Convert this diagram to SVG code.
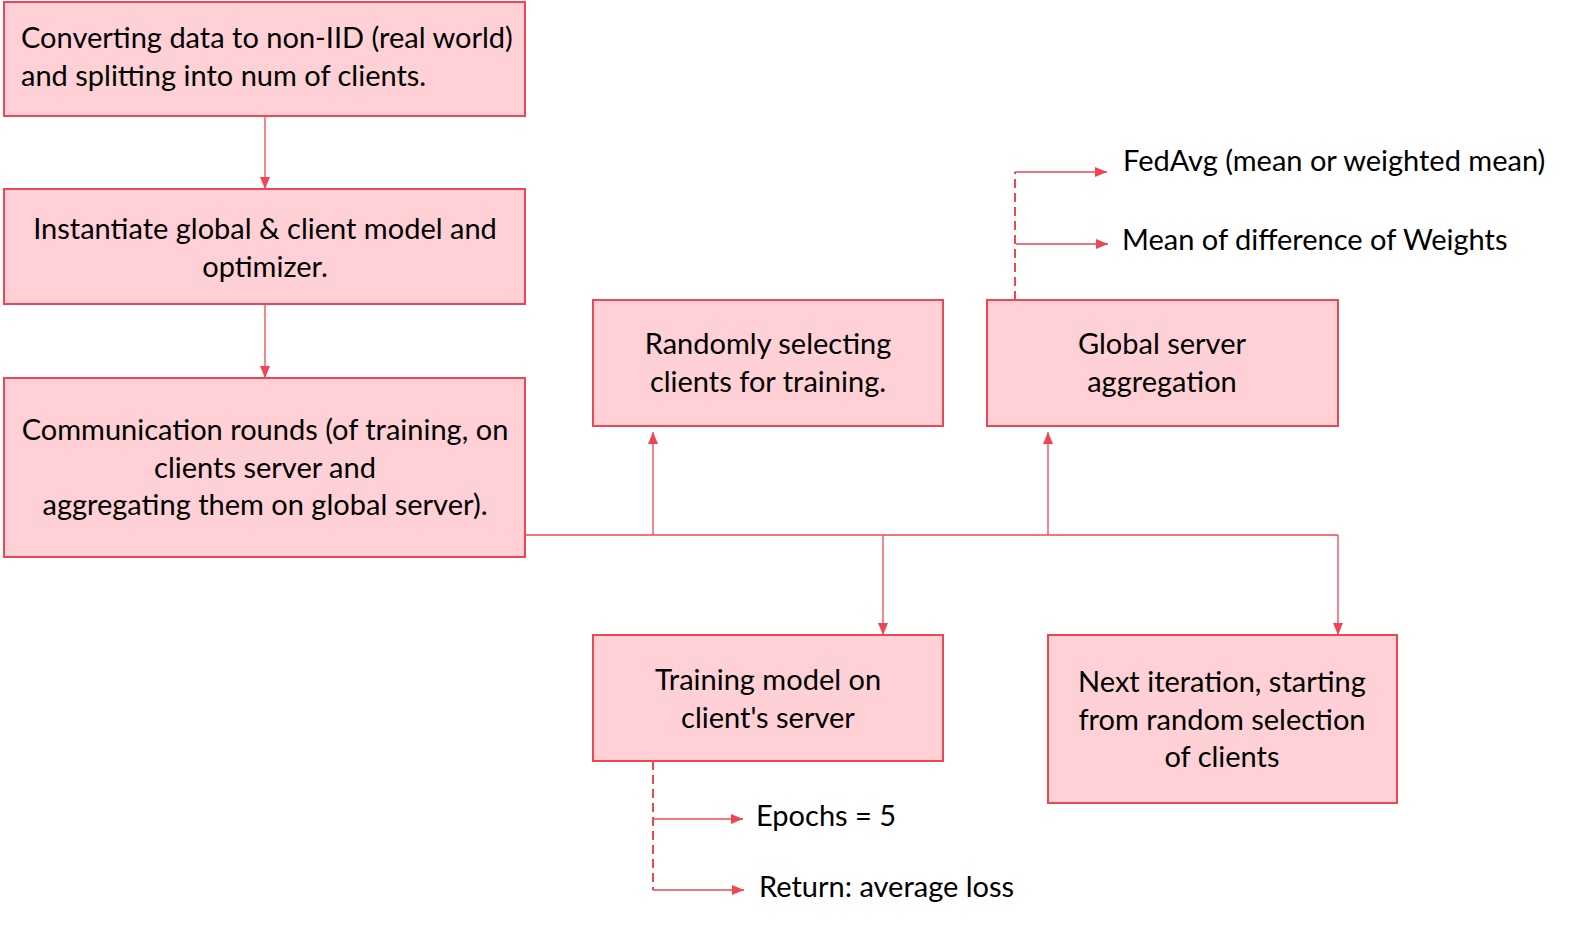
<svg xmlns="http://www.w3.org/2000/svg" width="1574" height="928" viewBox="0 0 1574 928">
<defs>
<style>
.box{fill:#FFD0D5;stroke:#EE4653;stroke-width:2}
.t{font-family:Lato,"Open Sans","Liberation Sans",sans-serif;font-size:29px;fill:#000}
.c{text-anchor:middle}
.ln{fill:none;stroke:#EE4653;stroke-width:1.3}
.d{stroke-dasharray:9,5;stroke-width:2}
</style>
<marker id="ah" viewBox="0 0 12 10" refX="12" refY="5" markerWidth="12" markerHeight="10" markerUnits="userSpaceOnUse" orient="auto">
<path d="M0,0 L12,5 L0,10 z" fill="#EE4653"/>
</marker>
</defs>
<rect width="1574" height="928" fill="#fff"/>
<g id="connectors">
<path class="ln" d="M265,116 V189" marker-end="url(#ah)"/>
<path class="ln" d="M265,304 V378" marker-end="url(#ah)"/>
<path class="ln" d="M525,535 H1338"/>
<path class="ln" d="M653,535 V432" marker-end="url(#ah)"/>
<path class="ln" d="M1048,535 V432" marker-end="url(#ah)"/>
<path class="ln" d="M883,535 V635" marker-end="url(#ah)"/>
<path class="ln" d="M1338,535 V635" marker-end="url(#ah)"/>
<path class="ln d" d="M1015,300 V172"/>
<path class="ln" d="M1015,172 H1107" marker-end="url(#ah)"/>
<path class="ln" d="M1016,244 H1108" marker-end="url(#ah)"/>
<path class="ln d" d="M653,761 V890"/>
<path class="ln" d="M653,819 H743" marker-end="url(#ah)"/>
<path class="ln" d="M653,890 H744" marker-end="url(#ah)"/>
</g>
<g id="n1"><rect class="box" x="4" y="2" width="521" height="114"/>
<text class="t" x="21" y="48">Converting data to non-IID (real world)</text>
<text class="t" x="21" y="86">and splitting into num of clients.</text></g>
<g id="n2"><rect class="box" x="4" y="189" width="521" height="115"/>
<text class="t c" x="265" y="239">Instantiate global &amp; client model and</text>
<text class="t c" x="265" y="277">optimizer.</text></g>
<g id="n3"><rect class="box" x="4" y="378" width="521" height="179"/>
<text class="t c" x="265" y="440">Communication rounds (of training, on</text>
<text class="t c" x="265" y="478">clients server and</text>
<text class="t c" x="265" y="515">aggregating them on global server).</text></g>
<g id="n4"><rect class="box" x="593" y="300" width="350" height="126"/>
<text class="t c" x="768" y="354">Randomly selecting</text>
<text class="t c" x="768" y="392">clients for training.</text></g>
<g id="n5"><rect class="box" x="987" y="300" width="351" height="126"/>
<text class="t c" x="1162" y="354">Global server</text>
<text class="t c" x="1162" y="392">aggregation</text></g>
<g id="n6"><rect class="box" x="593" y="635" width="350" height="126"/>
<text class="t c" x="768" y="690">Training model on</text>
<text class="t c" x="768" y="728">client's server</text></g>
<g id="n7"><rect class="box" x="1048" y="635" width="349" height="168"/>
<text class="t c" x="1222" y="692">Next iteration, starting</text>
<text class="t c" x="1222" y="730">from random selection</text>
<text class="t c" x="1222" y="767">of clients</text></g>
<g id="labels">
<text class="t" x="1123" y="171">FedAvg (mean or weighted mean)</text>
<text class="t" x="1122" y="250">Mean of difference of Weights</text>
<text class="t" x="756" y="826">Epochs = 5</text>
<text class="t" x="759" y="897">Return: average loss</text>
</g>
</svg>
